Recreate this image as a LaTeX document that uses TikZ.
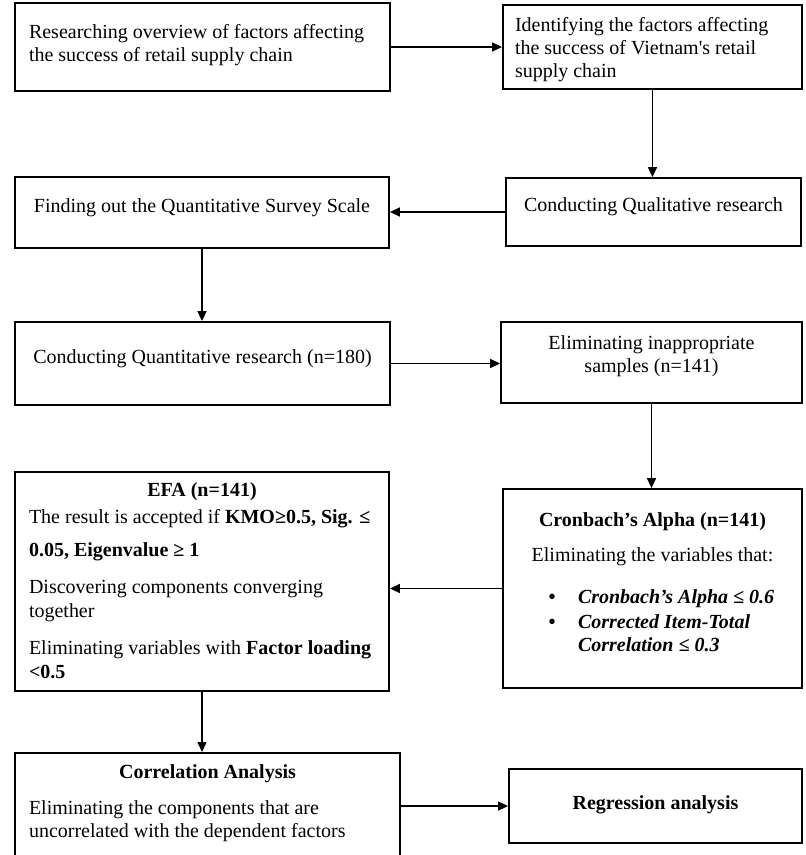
\documentclass[tikz,border=0pt]{standalone}
\usepackage{fontspec}
\setmainfont{Liberation Serif}
\usetikzlibrary{arrows.meta}
\newcommand\bxtext[4]{\parbox[c][#1][t]{#2}{\vspace*{#3}#4}}
\newcommand\bul{\hspace*{33.5pt}\makebox[29.5pt][l]{\textbf{•}}}
\begin{document}
\begin{tikzpicture}[x=1pt,y=-1pt,
  every node/.style={font=\fontsize{20}{23.3}\selectfont},
  boxst/.style={draw, line width=1.8pt, inner ysep=0pt, rectangle},
  arr/.style={line width=1.5pt, -{Triangle[length=10pt,width=9pt]}}]
\useasboundingbox (0,0) rectangle (806,855);
\fill[white] (0,0) rectangle (806,855);
\clip (0,0) rectangle (806,855);

\node[boxst, inner xsep=14pt, minimum width=375pt, minimum height=88pt] (b1) at (202.5,47)
  {\bxtext{88pt}{347pt}{19pt}{\raggedright\strut Researching overview of factors affecting\\ the success of retail supply chain}};
\node[boxst, inner xsep=12pt, minimum width=299pt, minimum height=84pt] (b2) at (652.5,47)
  {\bxtext{84pt}{275pt}{10pt}{\raggedright\strut Identifying the factors affecting\\ the success of Vietnam\textquotesingle s retail\\ supply chain}};
\node[boxst, inner xsep=10pt, minimum width=374pt, minimum height=71pt] (b3) at (202,212.5)
  {\bxtext{71pt}{354pt}{19.3pt}{\centering\strut Finding out the Quantitative Survey Scale}};
\node[boxst, inner xsep=10pt, minimum width=295pt, minimum height=68pt] (b4) at (653.5,212)
  {\bxtext{68pt}{275pt}{17.3pt}{\centering\strut Conducting Qualitative research}};
\node[boxst, inner xsep=10pt, minimum width=375pt, minimum height=83pt] (b5) at (202.5,363.5)
  {\bxtext{83pt}{355pt}{25.3pt}{\centering\strut Conducting Quantitative research (n=180)}};
\node[boxst, inner xsep=10pt, minimum width=301pt, minimum height=81pt] (b6) at (651.5,362.5)
  {\bxtext{81pt}{281pt}{11.3pt}{\centering\strut Eliminating inappropriate\\ samples (n=141)}};
\node[boxst, inner xsep=14pt, minimum width=374pt, minimum height=219pt] (efa) at (202,581.5)
  {\bxtext{219pt}{346pt}{8pt}{%
    {\centering\strut\textbf{EFA (n=141)}\par}\vspace{4pt}%
    \raggedright The result is accepted if \textbf{KMO≥0.5, Sig. ≤}\\[10pt]\textbf{0.05, Eigenvalue ≥ 1}\par\vspace{13pt}%
    Discovering components converging\\[1pt] together\par\vspace{14pt}%
    Eliminating variables with \textbf{Factor loading}\\ \textbf{<0.5}}};
\node[boxst, inner xsep=12pt, minimum width=299pt, minimum height=199pt] (cr) at (652.5,588.5)
  {\bxtext{199pt}{275pt}{21pt}{%
    {\centering\strut\textbf{Cronbach’s Alpha (n=141)}\\[12pt] Eliminating the variables that:\par}\vspace{19pt}%
    \raggedright\noindent\bul\textbf{\textit{Cronbach’s Alpha ≤ 0.6}}\\[1pt]
    \bul\textbf{\textit{Corrected Item-Total}}\\
    \hspace*{63pt}\textbf{\textit{Correlation ≤ 0.3}}}};
\node[boxst, inner xsep=14pt, minimum width=385pt, minimum height=110pt, anchor=north] (corr) at (207.5,752)
  {\bxtext{110pt}{357pt}{9pt}{%
    {\centering\strut\textbf{Correlation Analysis}\par}\vspace{12.7pt}%
    \raggedright Eliminating the components that are\\ uncorrelated with the dependent factors}};
\node[boxst, inner xsep=10pt, minimum width=293pt, minimum height=74pt] (reg) at (655.5,806)
  {\bxtext{74pt}{273pt}{24.3pt}{\centering\strut\textbf{Regression analysis}}};

\draw[arr] (b1.east) -- (b2.west);
\draw[arr] (b2.south) -- (b2.south |- b4.north);
\draw[arr] (b4.west) -- (b4.west -| b3.east);
\draw[arr] (b3.south) -- (b3.south |- b5.north);
\draw[arr] (b5.east) -- (b5.east -| b6.west);
\draw[arr] (b6.south) -- (b6.south |- cr.north);
\draw[arr] (cr.west) -- (cr.west -| efa.east);
\draw[arr] (efa.south) -- (efa.south |- corr.north);
\draw[arr] (corr.east |- reg.west) -- (reg.west);
\end{tikzpicture}
\end{document}
